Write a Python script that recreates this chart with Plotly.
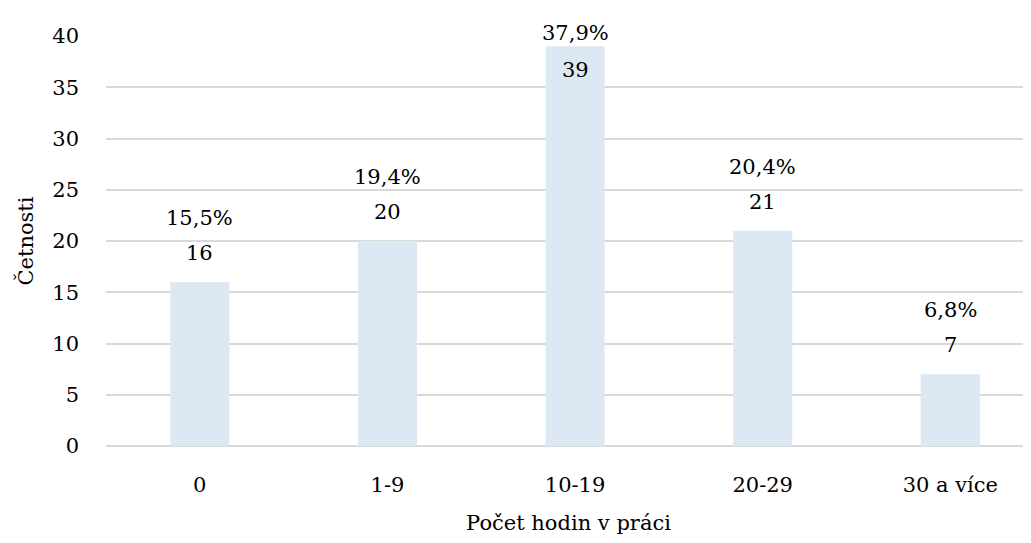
import plotly.graph_objects as go

categories = ["0", "1-9", "10-19", "20-29", "30 a více"]
counts = [16, 20, 39, 21, 7]
percent_labels = ["15,5%", "19,4%", "37,9%", "20,4%", "6,8%"]
y_ticks = [0, 5, 10, 15, 20, 25, 30, 35, 40]

FONT = "DejaVu Serif"
FS = 21
x_idx = list(range(len(categories)))

fig = go.Figure()
fig.add_trace(go.Bar(
    x=x_idx, y=counts, width=0.315,
    marker=dict(color="#dde8f5", line=dict(width=0)),
    hoverinfo="skip",
))

for i, (v, p) in enumerate(zip(counts, percent_labels)):
    inside = v > 35
    fig.add_annotation(x=i, y=v, text=str(v), showarrow=False, yanchor="middle",
                       yshift=-24 if inside else 29,
                       font=dict(family=FONT, size=FS, color="#000"))
    fig.add_annotation(x=i, y=v, text=p, showarrow=False, yanchor="middle",
                       yshift=13 if inside else 64,
                       font=dict(family=FONT, size=FS, color="#000"))

fig.update_layout(
    width=1023, height=535,
    margin=dict(l=98, r=0, t=28, b=97),
    paper_bgcolor="white", plot_bgcolor="white",
    font=dict(family=FONT, size=FS, color="#000"),
    showlegend=False,
    xaxis=dict(
        range=[-0.5, 4.43], tickmode="array", tickvals=x_idx, ticktext=categories,
        showgrid=False, zeroline=False, showline=False, ticks="",
        ticklabelstandoff=24,
        title=dict(text="Počet hodin v práci", standoff=19, font=dict(family=FONT, size=FS)),
        tickfont=dict(family=FONT, size=FS),
        automargin=False,
    ),
    yaxis=dict(
        range=[0, 40], tickvals=y_ticks, showgrid=True, gridcolor="#d9d9d9",
        gridwidth=1.5, zeroline=True, zerolinecolor="#d9d9d9", zerolinewidth=1.5,
        ticks="", ticklabelstandoff=26,
        title=dict(text="Četnosti", standoff=12, font=dict(family=FONT, size=FS)),
        tickfont=dict(family=FONT, size=FS),
        automargin=False,
    ),
)

fig.write_html("out.html")
